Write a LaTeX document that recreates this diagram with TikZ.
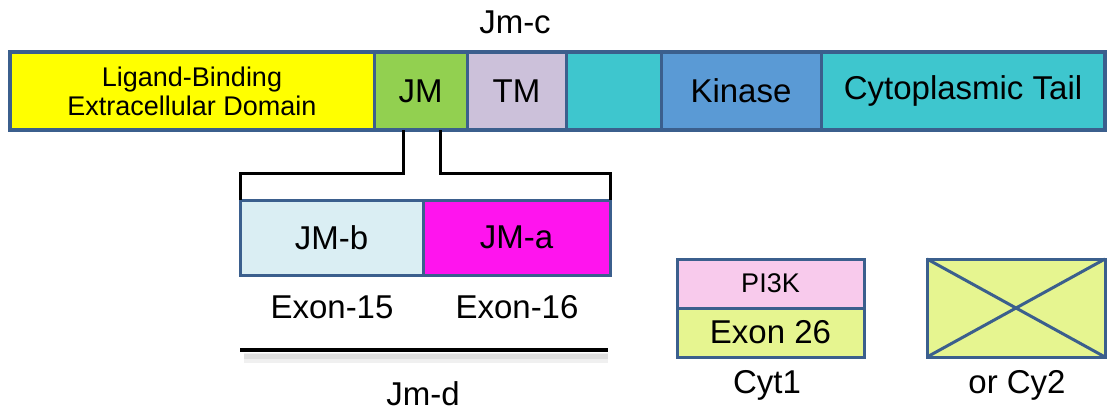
\documentclass[tikz,border=0pt]{standalone}
\usepackage{fontspec}
\setmainfont{Liberation Sans}
\definecolor{bordc}{HTML}{3B5F8D}
\definecolor{yelc}{HTML}{FFFF00}
\definecolor{jmc}{HTML}{92D050}
\definecolor{tmc}{HTML}{CCC1DA}
\definecolor{cyc}{HTML}{3EC6CE}
\definecolor{kinc}{HTML}{5A9AD5}
\definecolor{jmbc}{HTML}{DAEEF3}
\definecolor{jmac}{HTML}{FF14EE}
\definecolor{pikc}{HTML}{F8CAEC}
\definecolor{exc}{HTML}{E6F590}
\tikzset{
  seg/.style={draw=bordc, line width=3pt, anchor=north west, inner sep=0pt, outer sep=0pt, align=center, font=\fontsize{33}{36}\selectfont},
  small/.style={font=\fontsize{27}{29}\selectfont},
  lbl/.style={inner sep=0pt, font=\fontsize{33}{36}\selectfont},
  bracket/.style={draw=black, line width=3pt},
}
\begin{document}
\begin{tikzpicture}[x=1pt,y=-1pt]
\useasboundingbox (0,0) rectangle (1108,412);
% top bar
\node[seg, fill=yelc, minimum width=364pt, minimum height=78pt, small] (lbd) at (10,52) {Ligand-Binding\\Extracellular Domain};
\node[seg, fill=jmc, minimum width=93pt, minimum height=78pt] (jm) at (374,52) {JM};
\node[seg, fill=tmc, minimum width=99pt, minimum height=78pt] (tm) at (467,52) {TM};
\node[seg, fill=cyc, minimum width=95pt, minimum height=78pt] (cy) at (566,52) {};
\node[seg, fill=kinc, minimum width=160pt, minimum height=78pt] (kin) at (661,52) {Kinase};
\node[seg, fill=cyc, minimum width=284pt, minimum height=78pt] (tail) at (821,52) {Cytoplasmic Tail};
\draw[draw=bordc, line width=3.5pt] (lbd.north west) rectangle (tail.south east);
\node[lbl] (jmclbl) at (515,22) {Jm-c};
% JM split
\node[seg, fill=jmbc, minimum width=183pt, minimum height=75pt] (jmb) at (240,200) {JM-b};
\node[seg, fill=jmac, minimum width=187pt, minimum height=75pt] (jma) at (423,200) {JM-a};
\draw[bracket] ([xshift=-17.5pt]jm.south) -- ++(0,43) -| (jmb.north west);
\draw[bracket] ([xshift=19.5pt]jm.south) -- ++(0,43) -| (jma.north east);
\node[lbl] (e15) at (332,307) {Exon-15};
\node[lbl] (e16) at (517,307) {Exon-16};
\draw[gray!12, line width=10pt] (244,358) -- (608,358);
\draw[gray!25, line width=5pt] (244,356) -- (608,356);
\draw[black, line width=4pt] (240,350) -- (608,350);
\node[lbl] (jmd) at (423,394) {Jm-d};
% Cyt1
\node[seg, fill=pikc, minimum width=187pt, minimum height=49pt, small] (pik) at (677,259) {PI3K};
\node[seg, fill=exc, minimum width=187pt, minimum height=49pt] (ex26) at (677,308) {Exon 26};
\node[lbl] (cyt1) at (767,385) {Cyt1};
% Cy2
\node[seg, fill=exc, minimum width=178pt, minimum height=98pt] (cy2) at (927,259) {};
\draw[draw=bordc, line width=3pt] (cy2.north west) -- (cy2.south east);
\draw[draw=bordc, line width=3pt] (cy2.south west) -- (cy2.north east);
\node[lbl] (cy2lbl) at (1017,385) {or Cy2};
\end{tikzpicture}
\end{document}
